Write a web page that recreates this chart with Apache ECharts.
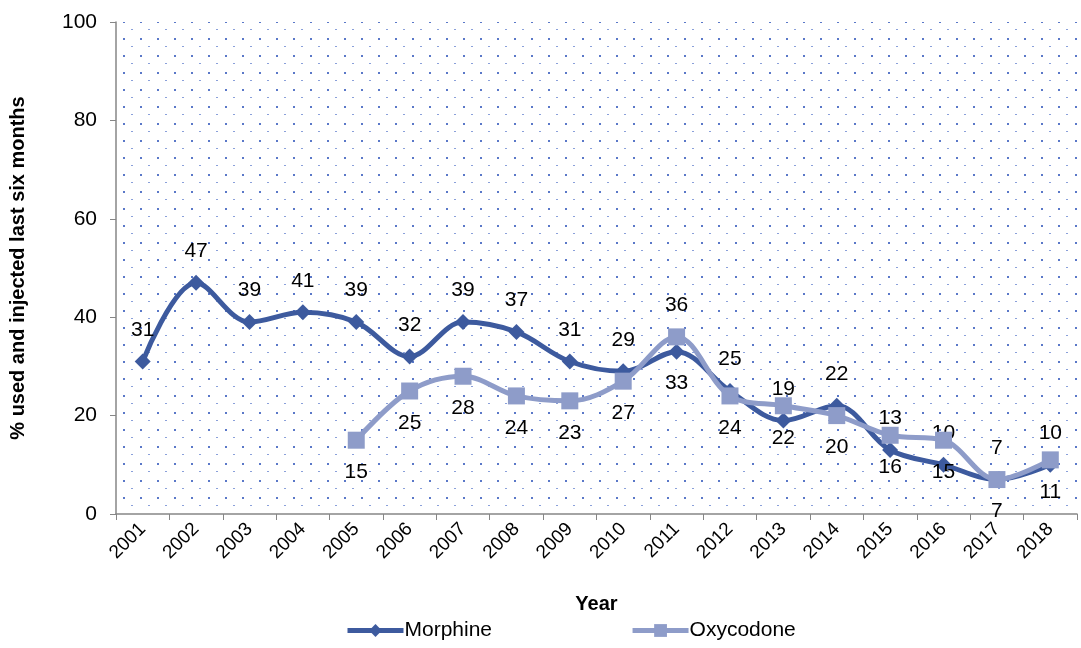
<!DOCTYPE html>
<html>
<head>
<meta charset="utf-8">
<script src="https://cdn.jsdelivr.net/npm/echarts@6/dist/echarts.min.js"></script>
<style>html,body{margin:0;padding:0;background:#fff;}#c{width:1081px;height:648px;}</style>
</head>
<body>
<div id="c"></div>
<script>
var years = ['2001','2002','2003','2004','2005','2006','2007','2008','2009','2010','2011','2012','2013','2014','2015','2016','2017','2018'];
var morphine = [31,47,39,41,39,32,39,37,31,29,33,25,19,22,13,10,7,10];
var oxycodone = [null,null,null,null,15,25,28,24,23,27,36,24,22,20,16,15,7,11];
var yTicks = [0,20,40,60,80,100];

// dotted pattern tile
var tile = document.createElement('canvas');
tile.width = 17; tile.height = 17;
var tc = tile.getContext('2d');
tc.fillStyle = '#ffffff'; tc.fillRect(0,0,17,17);
tc.fillStyle = '#5a78c8';
tc.fillRect(4,4,2,2);
tc.fillStyle = '#8aa0da';
tc.fillRect(12,12,2,1);

var FONT = 'Liberation Sans, Arial, sans-serif';
function buildData(vals, pos, flipIdx){
  return vals.map(function(v,i){
    if (v === null) return '-';
    var p = pos;
    if (flipIdx.indexOf(i) >= 0) p = (pos === 'top') ? 'bottom' : 'top';
    return {value: v, label: {position: p}};
  });
}
var flip = [years.indexOf('2011')];

var chart = echarts.init(document.getElementById('c'), null, {renderer:'canvas'});
chart.setOption({
  animation: false,
  backgroundColor: '#ffffff',
  grid: {left: 113, top: 22, right: 4, bottom: 134, show: true,
         backgroundColor: {image: tile, repeat: 'repeat'}, borderWidth: 0},
  legend: {
    bottom: 2, left: 340, itemGap: 138, itemWidth: 56, itemHeight: 16,
    lineStyle: {width: 5},
    textStyle: {fontFamily: FONT, fontSize: 21, color: '#000', padding: [0,0,0,-4]},
    data: [{name:'Morphine'},{name:'Oxycodone'}]
  },
  xAxis: {
    type: 'category', data: years, boundaryGap: true,
    name: 'Year', nameLocation: 'middle', nameGap: 80,
    nameTextStyle: {fontFamily: FONT, fontSize: 20, fontWeight: 'bold', color: '#000'},
    axisLine: {lineStyle: {color: '#868686', width: 1.5}},
    axisTick: {show: true, alignWithLabel: false, length: 6, lineStyle: {color: '#868686'}},
    axisLabel: {rotate: 45, fontFamily: FONT, fontSize: 19, color: '#000', margin: 12, interval: 0},
    splitLine: {show: false}
  },
  yAxis: {
    type: 'value', min: yTicks[0], max: yTicks[yTicks.length-1], interval: 20,
    name: '% used and injected last six months', nameLocation: 'middle', nameGap: 88,
    nameTextStyle: {fontFamily: FONT, fontSize: 20, fontWeight: 'bold', color: '#000'},
    axisLine: {show: true, lineStyle: {color: '#868686', width: 1.5}},
    axisTick: {show: true, length: 6, lineStyle: {color: '#868686'}},
    axisLabel: {fontFamily: FONT, fontSize: 21, color: '#000', margin: 19},
    splitLine: {show: false}
  },
  series: [
    {
      name: 'Morphine', type: 'line', smooth: 0.35,
      data: buildData(morphine, 'top', flip),
      symbol: 'diamond', symbolSize: 16,
      lineStyle: {color: '#3d5a9e', width: 5},
      itemStyle: {color: '#3d5a9e'},
      label: {show: true, distance: 13, fontFamily: FONT, fontSize: 21, color: '#000'},
      z: 3
    },
    {
      name: 'Oxycodone', type: 'line', smooth: 0.35,
      data: buildData(oxycodone, 'bottom', flip),
      symbol: 'rect', symbolSize: 17,
      lineStyle: {color: '#8e9cc9', width: 5},
      itemStyle: {color: '#8e9cc9'},
      label: {show: true, distance: 13, fontFamily: FONT, fontSize: 21, color: '#000'},
      z: 4
    }
  ]
});
</script>
</body>
</html>
